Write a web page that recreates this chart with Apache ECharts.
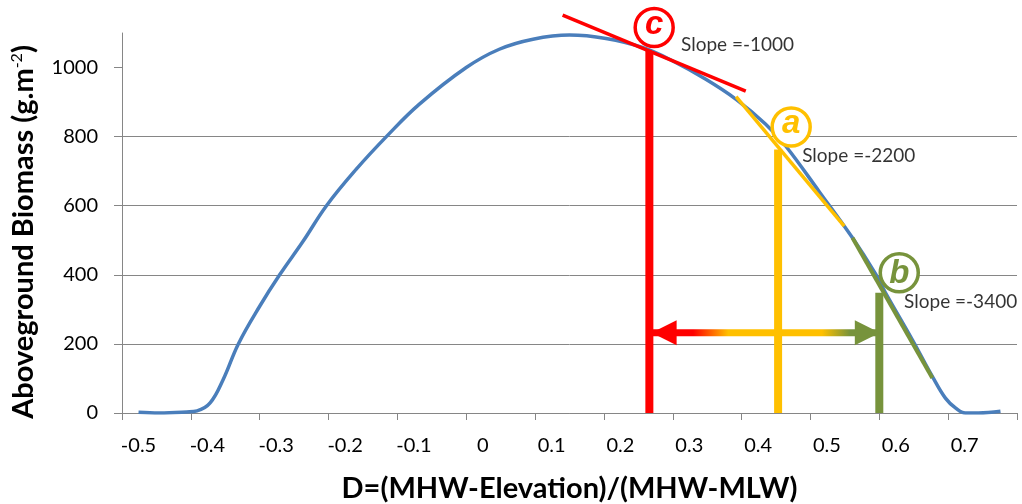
<!DOCTYPE html>
<html>
<head>
<meta charset="utf-8">
<script src="https://cdn.jsdelivr.net/npm/echarts@6/dist/echarts.min.js"></script>
<style>
  html, body { margin: 0; padding: 0; background: #fff; }
  #chart { width: 1022px; height: 504px; }
</style>
</head>
<body>
<div id="chart"></div>
<script>
// biomass curve
var curveD = [-0.50, -0.47, -0.43, -0.415, -0.396, -0.377, -0.355, -0.324, -0.295, -0.261, -0.227, -0.184, -0.140, -0.092, -0.024, 0.024, 0.073, 0.126, 0.179, 0.232, 0.276, 0.324, 0.368, 0.411, 0.440, 0.489, 0.537, 0.571, 0.585, 0.624, 0.653, 0.672, 0.687, 0.701, 0.720, 0.752];
var curveBio = [2, 0, 3, 6, 29, 97, 200, 309, 400, 497, 600, 705, 800, 894, 1000, 1053, 1082, 1094, 1084, 1058, 1019, 966, 908, 836, 773, 640, 507, 401, 348, 212, 106, 43, 14, 0, 0, 5];

// tangent lines c (red), a (yellow), b (green): two end points each
var tangentRedD = [0.116, 0.382];
var tangentRedBio = [1152, 932];
var tangentYellowD = [0.368, 0.525];
var tangentYellowBio = [916, 541];
var tangentGreenD = [0.537, 0.653];
var tangentGreenBio = [507, 101];

// vertical markers
var markD = [0.242, 0.429, 0.576];
var markBio = [1048, 763, 348];

// circled letters
var circleLetters = ['c', 'a', 'b'];
var circleD = [0.249, 0.448, 0.605];
var circleBio = [1116, 828, 406];

// slope notes
var slopeText = ['Slope =-1000', 'Slope =-2200', 'Slope =-3400'];
var slopeD = [0.288, 0.464, 0.612];
var slopeBio = [1067, 744, 323];

// double arrow between c and b
var arrowD = [0.246, 0.576];
var arrowBio = 232;

var xLabelValues = [-0.5, -0.4, -0.3, -0.2, -0.1, 0, 0.1, 0.2, 0.3, 0.4, 0.5, 0.6, 0.7];
var xTickValues = [-0.524, -0.424, -0.324, -0.224, -0.124, -0.024, 0.076, 0.176, 0.276, 0.376, 0.476, 0.576, 0.676, 0.776];
var yTickValues = [0, 200, 400, 600, 800, 1000];

var RED = '#FF0000', YELLOW = '#FFC000', GREEN = '#77933C', BLUE = '#4A7EBB';
var markColors = [RED, YELLOW, GREEN];

function pairs(xs, ys) {
    return xs.map(function (x, i) { return [x, ys[i]]; });
}

var series = [
    {
        name: 'biomass',
        type: 'line',
        data: pairs(curveD, curveBio),
        smooth: 0.4,
        showSymbol: false,
        lineStyle: { color: BLUE, width: 3.5 },
        z: 2
    },
    {
        type: 'line',
        data: pairs(tangentGreenD, tangentGreenBio),
        showSymbol: false,
        lineStyle: { color: GREEN, width: 4 },
        z: 3
    },
    {
        type: 'line',
        data: pairs(tangentYellowD, tangentYellowBio),
        showSymbol: false,
        lineStyle: { color: YELLOW, width: 3.5 },
        z: 3
    },
    {
        type: 'line',
        data: pairs(tangentRedD, tangentRedBio),
        showSymbol: false,
        clip: false,
        lineStyle: { color: RED, width: 3.5 },
        z: 3
    }
];

markD.forEach(function (d, i) {
    series.push({
        type: 'line',
        data: [[d, 0], [d, markBio[i]]],
        showSymbol: false,
        lineStyle: { color: markColors[i], width: 8, cap: 'butt' },
        z: 4
    });
});

series.push({
    type: 'line',
    data: [[arrowD[0], arrowBio], [arrowD[1], arrowBio]],
    showSymbol: false,
    lineStyle: {
        width: 7,
        color: new echarts.graphic.LinearGradient(0, 0, 1, 0, [
            { offset: 0, color: RED },
            { offset: 0.19, color: RED },
            { offset: 0.34, color: YELLOW },
            { offset: 0.74, color: YELLOW },
            { offset: 0.86, color: GREEN },
            { offset: 1, color: GREEN }
        ])
    },
    z: 5
});

series.push({
    type: 'scatter',
    symbol: 'triangle',
    data: [
        { value: [arrowD[0], arrowBio], symbolRotate: 90, symbolOffset: [12, 0], itemStyle: { color: RED } },
        { value: [arrowD[1], arrowBio], symbolRotate: -90, symbolOffset: [-12, 0], itemStyle: { color: GREEN } }
    ],
    symbolSize: [25, 25],
    itemStyle: { opacity: 1 },
    z: 6
});

series.push({
    type: 'scatter',
    clip: false,
    symbol: 'circle',
    symbolSize: 38,
    data: circleLetters.map(function (l, i) {
        return {
            value: [circleD[i], circleBio[i]],
            name: l,
            itemStyle: { color: '#fff', opacity: 1, borderColor: markColors[i], borderWidth: 3.5 },
            label: { color: markColors[i], offset: [0, l === 'b' ? 1 : -3] }
        };
    }),
    label: {
        show: true,
        position: 'inside',
        formatter: '{b}',
        fontFamily: 'Liberation Sans',
        fontStyle: 'italic',
        fontWeight: 'bold',
        fontSize: 33
    },
    z: 7
});

series.push({
    type: 'scatter',
    clip: false,
    symbolSize: 0,
    data: slopeText.map(function (t, i) {
        return { value: [slopeD[i], slopeBio[i]], name: t };
    }),
    label: {
        show: true,
        position: 'right',
        distance: 0,
        formatter: '{b}',
        color: '#000',
        fontFamily: 'Lato',
        fontSize: 19
    },
    z: 7
});

var option = {
    backgroundColor: '#fff',
    animation: false,
    textStyle: { fontFamily: 'Lato' },
    grid: { left: 122, right: 5, top: 33, bottom: 91, containLabel: false, outerBoundsMode: 'none' },
    xAxis: {
        type: 'value',
        min: -0.524,
        max: 0.776,
        position: 'bottom',
        name: 'D=(MHW-Elevation)/(MHW-MLW)',
        nameLocation: 'middle',
        nameGap: 61,
        nameTextStyle: { color: '#000', fontFamily: 'Lato', fontWeight: 'bold', fontSize: 29 },
        axisLine: { show: true, onZero: false, lineStyle: { color: '#868686', width: 1 } },
        axisTick: { show: true, length: 7, customValues: xTickValues, lineStyle: { color: '#868686' } },
        axisLabel: {
            customValues: xLabelValues,
            margin: 23,
            color: '#000',
            fontSize: 20,
            fontFamily: 'Lato',
            formatter: function (v) { return String(Math.round(v * 10) / 10); }
        },
        splitLine: { show: false }
    },
    yAxis: {
        type: 'value',
        min: 0,
        max: 1100,
        name: 'Aboveground Biomass (g.m{sup|-2})',
        nameLocation: 'middle',
        nameRotate: 90,
        nameGap: 84,
        nameTextStyle: {
            color: '#000', fontFamily: 'Lato', fontWeight: 'bold', fontSize: 29,
            padding: [0, 18, 0, 0],
            rich: { sup: { fontSize: 16, fontWeight: 'normal', verticalAlign: 'top', color: '#000', fontFamily: 'Lato' } }
        },
        axisLine: { show: true, onZero: false, lineStyle: { color: '#868686', width: 1 } },
        axisTick: { show: true, length: 8, customValues: yTickValues, lineStyle: { color: '#868686' } },
        axisLabel: {
            customValues: yTickValues,
            margin: 24,
            color: '#000',
            fontSize: 20,
            fontFamily: 'Lato',
            formatter: function (v) { return String(v); }
        },
        splitLine: { show: true, showMaxLine: false, lineStyle: { color: '#868686', width: 1 } }
    },
    series: series
};

var chart = echarts.init(document.getElementById('chart'), null, { renderer: 'canvas' });
chart.setOption(option);
</script>
</body>
</html>
